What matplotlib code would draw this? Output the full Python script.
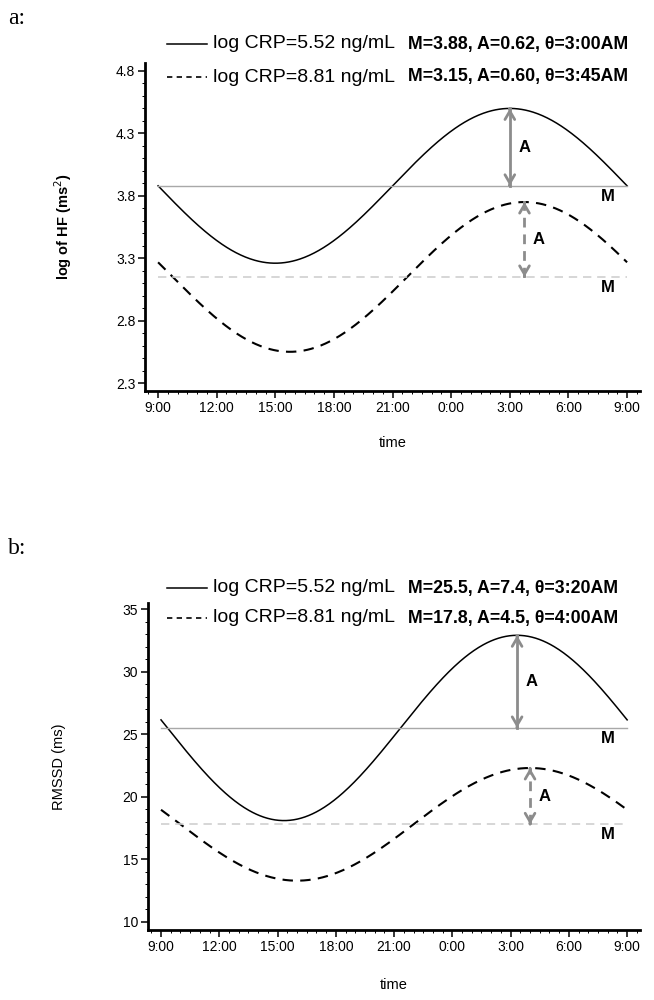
import numpy as np
import matplotlib
matplotlib.use('Agg')
import matplotlib.pyplot as plt
from matplotlib.lines import Line2D
from matplotlib.ticker import MultipleLocator

plt.rcParams['font.family'] = ['Liberation Sans', 'DejaVu Sans']

# clock axis (hours, 24 = midnight)
hour_ticks = [9, 12, 15, 18, 21, 24, 27, 30, 33]
hour_labels = ['9:00', '12:00', '15:00', '18:00', '21:00', '0:00', '3:00', '6:00', '9:00']
crp_labels = ['log CRP=5.52 ng/mL', 'log CRP=8.81 ng/mL']

# panel a: cosinor fit of log HF
hf_mesor = [3.88, 3.15]
hf_amp = [0.62, 0.60]
hf_acro = [27.0, 27.75]          # 3:00AM, 3:45AM
hf_text = ['M=3.88, A=0.62, \u03b8=3:00AM', 'M=3.15, A=0.60, \u03b8=3:45AM']
hf_yticks = [2.3, 2.8, 3.3, 3.8, 4.3, 4.8]

# panel b: cosinor fit of RMSSD
rmssd_mesor = [25.5, 17.8]
rmssd_amp = [7.4, 4.5]
rmssd_acro = [27 + 20 / 60, 28.0]  # 3:20AM, 4:00AM
rmssd_text = ['M=25.5, A=7.4, \u03b8=3:20AM', 'M=17.8, A=4.5, \u03b8=4:00AM']
rmssd_yticks = [10, 15, 20, 25, 30, 35]

W, H = 654, 1000
fig = plt.figure(figsize=(W / 100, H / 100), dpi=100)

DASH = (0, (5, 3.5))
ARROW_C = '#8c8c8c'


def fx(px):
    return px / W


def fy(py):
    return 1 - py / H


def panel(rect, mesor, amp, acro, texts, yticks, ylim, minor, ylabel, ybold,
          ylab_x, xlab_y, legend_y, letter, letter_y):
    ax = fig.add_axes(rect)
    t = np.linspace(9, 33, 500)
    styles = ['-', DASH]
    for i in range(2):
        y = mesor[i] + amp[i] * np.cos(2 * np.pi * (t - acro[i]) / 24)
        ax.plot(t, y, color='black', lw=1.1 if i == 0 else 1.5, ls=styles[i])
        if i == 0:
            ax.plot([9, 33], [mesor[i]] * 2, color='#a8a8a8', lw=1.0)
        else:
            ax.plot([9, 33], [mesor[i]] * 2, color='#cfcfcf', lw=1.2, ls=DASH)
        peak = mesor[i] + amp[i]
        # arrow shaft + heads
        ax.plot([acro[i]] * 2, [mesor[i], peak], color=ARROW_C, lw=2,
                ls='-' if i == 0 else (0, (3.5, 2.5)))
        eps = (ylim[1] - ylim[0]) * 0.002
        for tip, base in [(peak, peak - eps), (mesor[i], mesor[i] + eps)]:
            ax.annotate('', xy=(acro[i], tip), xytext=(acro[i], base),
                        arrowprops=dict(arrowstyle='->,head_length=0.6,head_width=0.35',
                                        color=ARROW_C, lw=2, shrinkA=0, shrinkB=0))
        ax.annotate('A', xy=(acro[i], (mesor[i] + peak) / 2), xytext=(6, 0),
                    textcoords='offset points', ha='left', va='center',
                    fontsize=12, fontweight='bold')
        ax.annotate('M', xy=(32.0, mesor[i]), xytext=(0, -7.5),
                    textcoords='offset points', ha='center', va='center',
                    fontsize=12, fontweight='bold')

    ax.set_xlim(8.33, 33.65)
    ax.set_ylim(*ylim)
    ax.set_xticks(hour_ticks)
    ax.set_xticklabels(hour_labels)
    ax.set_yticks(yticks)
    ax.set_yticklabels([str(v) for v in yticks])
    ax.xaxis.set_minor_locator(MultipleLocator(0.5))
    ax.yaxis.set_minor_locator(MultipleLocator(minor))
    for s in ['top', 'right']:
        ax.spines[s].set_visible(False)
    for s in ['left', 'bottom']:
        ax.spines[s].set_linewidth(2)
    ax.tick_params(which='major', direction='out', length=5, width=1.1, labelsize=10, pad=2)
    ax.tick_params(which='minor', direction='out', length=2.5, width=0.7)

    ax.set_xlabel('time', fontsize=10.5, va='center')
    ax.xaxis.set_label_coords(0.5, xlab_y)
    ax.set_ylabel(ylabel, fontsize=10.5, fontweight='bold' if ybold else 'normal',
                  va='center')
    ax.yaxis.set_label_coords(ylab_x, 0.5)

    # legend drawn in figure pixels
    for i in range(2):
        ly = legend_y[i]
        fig.add_artist(Line2D([fx(167), fx(207)], [fy(ly), fy(ly)], color='black',
                              lw=1.1 if i == 0 else 1.2,
                              ls='-' if i == 0 else (0, (3.2, 2.6)),
                              transform=fig.transFigure))
        fig.text(fx(213), fy(ly), crp_labels[i], fontsize=14, va='center', ha='left')
        fig.text(fx(408), fy(ly), texts[i], fontsize=12.8, fontweight='bold',
                 va='center', ha='left')
    fig.text(fx(8), fy(letter_y), letter, fontsize=17, va='center', ha='left',
             family=['Liberation Serif', 'DejaVu Serif'])
    return ax


panel([fx(145), fy(391), (628 - 145) / W + 0.018, (391 - 63) / H],
      hf_mesor, hf_amp, hf_acro, hf_text, hf_yticks, (2.236, 4.864), 0.1,
      'log of HF (ms$^{2}$)', True, -0.165, -0.158, [44, 77], 'a:', 18)

panel([fx(148), fy(930), (628 - 148) / W + 0.018, (930 - 603) / H],
      rmssd_mesor, rmssd_amp, rmssd_acro, rmssd_text, rmssd_yticks, (9.36, 35.48), 1,
      'RMSSD (ms)', False, -0.18, -0.168, [588, 618], 'b:', 549)

fig.savefig('out.png', dpi=100)
